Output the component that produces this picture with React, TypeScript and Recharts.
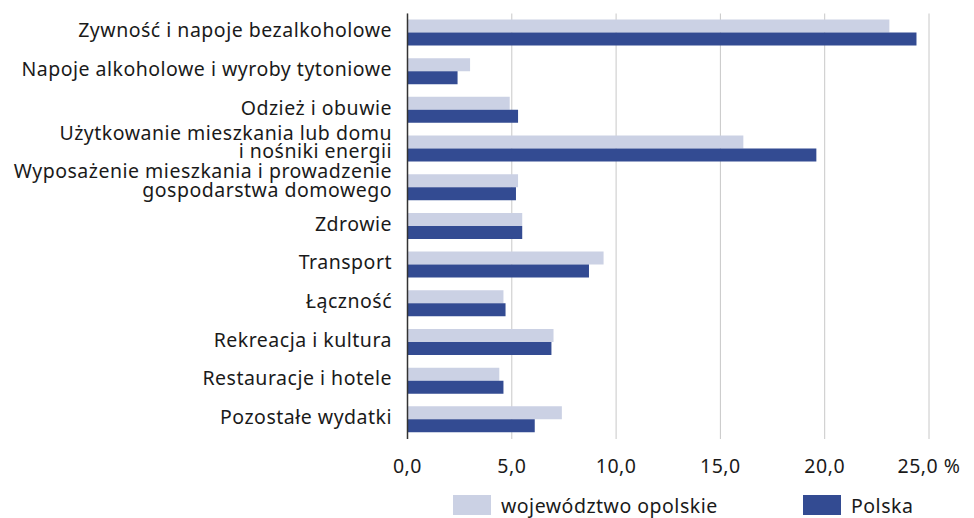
import { BarChart, Bar, XAxis, YAxis, CartesianGrid } from 'recharts';

const categories = [
  'Zywność i napoje bezalkoholowe',
  'Napoje alkoholowe i wyroby tytoniowe',
  'Odzież i obuwie',
  'Użytkowanie mieszkania lub domu\ni nośniki energii',
  'Wyposażenie mieszkania i prowadzenie\ngospodarstwa domowego',
  'Zdrowie',
  'Transport',
  'Łączność',
  'Rekreacja i kultura',
  'Restauracje i hotele',
  'Pozostałe wydatki',
];
const opolskie = [23.1, 3.0, 4.9, 16.1, 5.3, 5.5, 9.4, 4.6, 7.0, 4.4, 7.4];
const polska = [24.4, 2.4, 5.3, 19.6, 5.2, 5.5, 8.7, 4.7, 6.9, 4.6, 6.1];
const xTicks = [0, 5, 10, 15, 20, 25];

const LIGHT = '#cbd1e4';
const DARK = '#334b92';
const TEXT = '#1a1a1a';
const FONT = '"Noto Sans", sans-serif';
const FS = 19.5;
const LS = 0.5;

const data = categories.map((name, i) => ({ name, opolskie: opolskie[i], polska: polska[i] }));

const fmtX = (v: number) => v.toFixed(1).replace('.', ',') + (v === 25 ? ' %' : '');

function CategoryTick(props: any) {
  const { x, y, payload } = props;
  const lines: string[] = String(payload.value).split('\n');
  const base = lines.length === 1 ? [4.5] : [-9.3, 9];
  return (
    <text x={x} y={y} textAnchor="end" fontSize={FS} fontFamily={FONT} letterSpacing={LS} fill={TEXT}>
      {lines.map((l, i) => (
        <tspan key={i} x={x} y={y + base[i]}>
          {l}
        </tspan>
      ))}
    </text>
  );
}

export default function App() {
  return (
    <div style={{ position: 'absolute', left: 0, top: 0, width: 974, height: 518, background: '#fff' }}>
      <BarChart
        width={974}
        height={518}
        data={data}
        layout="vertical"
        margin={{ top: 13.5, right: 45, left: 0, bottom: 39 }}
        barSize={13}
        barGap={0}
      >
        <CartesianGrid horizontal={false} stroke="#c8c8c8" />
        <XAxis
          type="number"
          domain={[0, 25]}
          ticks={xTicks}
          tickFormatter={fmtX}
          axisLine={false}
          tickLine={false}
          tickSize={0}
          tickMargin={20}
          height={40}
          tick={{ fontSize: FS, fill: TEXT, fontFamily: FONT, letterSpacing: LS }}
          interval={0}
        />
        <YAxis
          type="category"
          dataKey="name"
          width={407.5}
          axisLine={{ stroke: '#333', strokeWidth: 1.5 }}
          tickLine={false}
          tickSize={0}
          tickMargin={15.5}
          tick={<CategoryTick />}
          interval={0}
        />
        <Bar dataKey="opolskie" fill={LIGHT} isAnimationActive={false} />
        <Bar dataKey="polska" fill={DARK} isAnimationActive={false} />
      </BarChart>
      <svg width={974} height={40} style={{ position: 'absolute', left: 0, top: 478 }}>
        <rect x={453} y={17} width={38} height={20} fill={LIGHT} />
        <text x={501} y={35} fontSize={FS} fontFamily={FONT} letterSpacing={LS} fill={TEXT}>
          województwo opolskie
        </text>
        <rect x={803} y={17} width={38} height={20} fill={DARK} />
        <text x={851} y={35} fontSize={FS} fontFamily={FONT} letterSpacing={LS} fill={TEXT}>
          Polska
        </text>
      </svg>
    </div>
  );
}
